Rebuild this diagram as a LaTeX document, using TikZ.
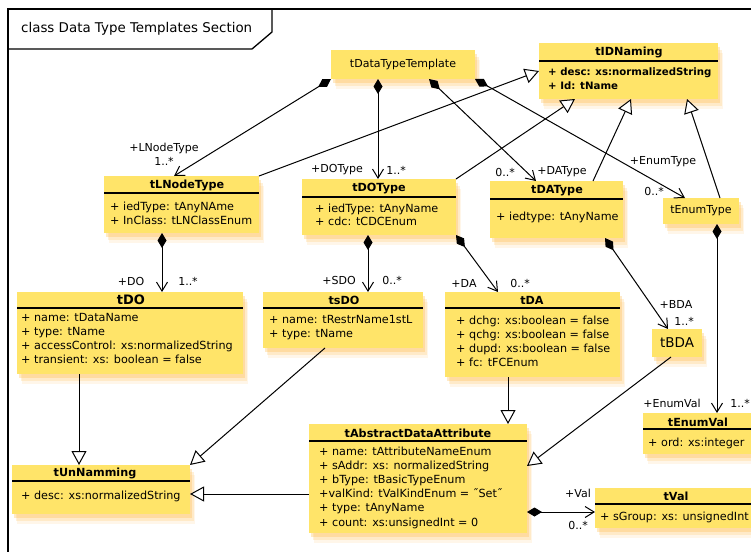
\documentclass[tikz,border=0pt]{standalone}
\usepackage{fontspec}
\setmainfont{DejaVu Sans}
\usetikzlibrary{arrows.meta,shadows}
\definecolor{clsfill}{RGB}{255,228,105}
\definecolor{clsshadow}{RGB}{255,185,70}
\begin{document}
\begin{tikzpicture}[x=1pt,y=-1pt,
  every node/.style={font=\fontsize{11.2}{13}\selectfont, inner sep=0pt},
  cls/.style={fill=clsfill, anchor=north west, inner sep=0pt, outer sep=0pt,
    general shadow={shadow xshift=5pt, shadow yshift=-10pt, fill=clsshadow, opacity=.12},
    general shadow={shadow xshift=4pt, shadow yshift=-7pt, fill=clsshadow, opacity=.2},
    general shadow={shadow xshift=2pt, shadow yshift=-4pt, fill=clsshadow, opacity=.3}},
  ttl/.style={font=\bfseries\fontsize{11.2}{13}\selectfont},
  bigttl/.style={font=\bfseries\fontsize{13}{15}\selectfont},
  plain/.style={font=\fontsize{11}{13}\selectfont},
  attr/.style={anchor=west, text height=9pt, text depth=2pt},
  battr/.style={attr, font=\bfseries\fontsize{10.2}{12}\selectfont},
  lbl/.style={font=\fontsize{11}{13}\selectfont},
  sepline/.style={line width=1.2pt},
  frame/.style={line width=1.3pt},
  comp/.style={draw, line width=1pt,
    {Diamond[length=15pt,width=9pt]}-{Straight Barb[length=9pt,width=11pt,line width=1pt]}},
  gen/.style={draw, line width=1pt,
    -{Triangle[open,length=14pt,width=15pt,fill=white,line width=1pt]}},
]
\useasboundingbox (0,0) rectangle (751,551);
\clip (0,0) rectangle (751,551);

% diagram frame with its name tab
\draw[frame] (8,560) -- (8,9) -- (760,9);
\draw[frame] (272,9) -- (272,32) -- (252,49) -- (8,49);
\node[anchor=west, font=\fontsize{13.4}{15}\selectfont] (frameT) at (21,29) {class Data Type Templates Section};

% ---------- classes ----------
% tDataTypeTemplate
\node[cls, minimum width=144pt, minimum height=29pt] (dtt) at (331,50) {};
\node[plain] (dttT) at (403,64) {tDataTypeTemplate};

% tIDNaming
\node[cls, minimum width=179pt, minimum height=56pt] (idn) at (539,43) {};
\node[ttl] (idnT) at (629,52) {tIDNaming};
\draw[sepline] (539,61) -- (718,61);
\node[battr] (idnA1) at (548,72) {+ desc: xs:normalizedString};
\node[battr] (idnA2) at (548,86) {+ Id: tName};

% tLNodeType
\node[cls, minimum width=155pt, minimum height=57pt] (lnt) at (104,176) {};
\node[ttl] (lntT) at (187,185) {tLNodeType};
\draw[sepline] (104,193) -- (259,193);
\node[attr] (lntA1) at (110,207) {+ iedType: tAnyNAme};
\node[attr] (lntA2) at (110,221) {+ InClass: tLNClassEnum};

% tDOType
\node[cls, minimum width=154pt, minimum height=56pt] (dot) at (302,179) {};
\node[ttl] (dotT) at (379,189) {tDOType};
\draw[sepline] (302,197) -- (456,197);
\node[attr] (dotA1) at (315,209) {+ iedType: tAnyName};
\node[attr] (dotA2) at (315,222) {+ cdc: tCDCEnum};

% tDAType
\node[cls, minimum width=133pt, minimum height=57pt] (dat) at (490,181) {};
\node[ttl] (datT) at (557,191) {tDAType};
\draw[sepline] (490,199) -- (623,199);
\node[attr] (datA1) at (496,217) {+ iedtype: tAnyName};

% tEnumType
\node[cls, minimum width=76pt, minimum height=26pt] (ent) at (663,198) {};
\node[plain] (entT) at (701,211) {tEnumType};

% tDO
\node[cls, minimum width=226pt, minimum height=82pt] (tdo) at (17,292) {};
\node[bigttl] (tdoT) at (131,300) {tDO};
\draw[sepline] (17,308) -- (243,308);
\node[attr] (tdoA1) at (21,318) {+ name: tDataName};
\node[attr] (tdoA2) at (21,332) {+ type: tName};
\node[attr] (tdoA3) at (21,346) {+ accessControl: xs:normalizedString};
\node[attr] (tdoA4) at (21,360) {+ transient: xs: boolean = false};

% tsDO
\node[cls, minimum width=160pt, minimum height=56pt] (sdo) at (263,292) {};
\node[ttl] (sdoT) at (344,300) {tsDO};
\draw[sepline] (263,308) -- (423,308);
\node[attr] (sdoA1) at (269,320) {+ name: tRestrName1stL};
\node[attr] (sdoA2) at (269,334) {+ type: tName};

% tDA
\node[cls, minimum width=175pt, minimum height=85pt] (tda) at (445,292) {};
\node[ttl] (tdaT) at (532,300) {tDA};
\draw[sepline] (445,308) -- (620,308);
\node[attr] (tdaA1) at (456,321) {+ dchg: xs:boolean = false};
\node[attr] (tdaA2) at (456,335) {+ qchg: xs:boolean = false};
\node[attr] (tdaA3) at (456,349) {+ dupd: xs:boolean = false};
\node[attr] (tdaA4) at (456,363) {+ fc: tFCEnum};

% tBDA
\node[cls, minimum width=50pt, minimum height=28pt] (bda) at (652,329) {};
\node[font=\fontsize{13.5}{15}\selectfont] (bdaT) at (677,343) {tBDA};

% tEnumVal
\node[cls, minimum width=115pt, minimum height=41pt] (env) at (643,413) {};
\node[ttl] (envT) at (698,422) {tEnumVal};
\draw[sepline] (643,429) -- (758,429);
\node[attr] (envA1) at (648,443) {+ ord: xs:integer};

% tUnNamming
\node[cls, minimum width=178pt, minimum height=49pt] (unn) at (12,465) {};
\node[ttl] (unnT) at (95,473) {tUnNamming};
\draw[sepline] (12,481) -- (190,481);
\node[attr] (unnA1) at (21,496) {+ desc: xs:normalizedString};

% tAbstractDataAttribute
\node[cls, minimum width=218pt, minimum height=109pt] (ada) at (309,424) {};
\node[ttl] (adaT) at (418,433) {tAbstractDataAttribute};
\draw[sepline] (309,441) -- (527,441);
\node[attr] (adaA1) at (319,452) {+ name: tAttributeNameEnum};
\node[attr] (adaA2) at (319,466) {+ sAddr: xs: normalizedString};
\node[attr] (adaA3) at (319,480) {+ bType: tBasicTypeEnum};
\node[attr] (adaA4) at (319,494) {+valKind: tValKindEnum = ˝Set˝};
\node[attr] (adaA5) at (319,508) {+ type: tAnyName};
\node[attr] (adaA6) at (319,523) {+ count: xs:unsignedInt = 0};

% tVal
\node[cls, minimum width=165pt, minimum height=40pt] (val) at (595,488) {};
\node[ttl] (valT) at (676,496) {tVal};
\draw[sepline] (595,504) -- (760,504);
\node[attr] (valA1) at (600,517) {+ sGroup: xs: unsignedInt};

% ---------- compositions ----------
\draw[comp] (dtt.south west) -- ([xshift=-7.5pt]lnt.north);
\draw[comp] ([xshift=-25pt]dtt.south) -- ([xshift=-25pt]dtt.south |- dot.north);
\draw[comp] ([xshift=26pt]dtt.south) -- ([xshift=-20.5pt]dat.north);
\draw[comp] (dtt.south east) -- ([xshift=-16pt]ent.north);
\draw[comp] ([xshift=-19.5pt]lnt.south) -- ([xshift=-19.5pt]lnt.south |- tdo.north);
\draw[comp] ([xshift=-11pt]dot.south) -- ([xshift=-11pt]dot.south |- sdo.north);
\draw[comp] (dot.south east) -- ([xshift=-34.5pt]tda.north);
\draw[comp] ([xshift=48.5pt]dat.south) -- ([xshift=-9pt]bda.north);
\draw[comp] ([xshift=16pt]ent.south) -- ([xshift=16pt]ent.south |- env.north);
\draw[comp] ([yshift=-33.5pt]ada.east) -- ([yshift=-33.5pt]ada.east -| val.west);

% ---------- generalizations ----------
\draw[gen] (lnt.north east) -- (idn.west);
\draw[gen] (dot.north east) -- ([xshift=-53.5pt]idn.south);
\draw[gen] ([xshift=36.5pt]dat.north) -- ([xshift=2.5pt]idn.south);
\draw[gen] ([xshift=19pt]ent.north) -- ([xshift=58.5pt]idn.south);
\draw[gen] ([xshift=-51pt]tdo.south) -- ([xshift=-51pt]tdo.south |- unn.north);
\draw[gen] ([xshift=-18pt]sdo.south) -- (unn.north east);
\draw[gen] ([yshift=-15.5pt]ada.west) -- ([yshift=-15.5pt]ada.west -| unn.east);
\draw[gen] ([xshift=-24.5pt]tda.south) -- ([xshift=-24.5pt]tda.south |- ada.north);
\draw[gen] ([xshift=-6pt]bda.south) -- ([yshift=12.5pt]ada.east);

% ---------- role names and multiplicities ----------
\node[lbl] (lLN1) at (164,148) {+LNodeType};
\node[lbl] (lLN2) at (164,161) {1..*};
\node[lbl] (lDOT1) at (337,170) {+DOType};
\node[lbl] (lDOT2) at (396,170) {1..*};
\node[lbl] (lDAT2) at (505,172) {0..*};
\node[lbl] (lDAT1) at (562,172) {+DAType};
\node[lbl] (lEN1) at (663,162) {+EnumType};
\node[lbl] (lEN2) at (654,191) {0..*};
\node[lbl] (lDO1) at (131,281) {+DO};
\node[lbl] (lDO2) at (188,281) {1..*};
\node[lbl] (lSDO1) at (339,280) {+SDO};
\node[lbl] (lSDO2) at (392,280) {0..*};
\node[lbl] (lDA1) at (464,283) {+DA};
\node[lbl] (lDA2) at (520,283) {0..*};
\node[lbl] (lBDA1) at (676,304) {+BDA};
\node[lbl] (lBDA2) at (684,321) {1..*};
\node[lbl] (lEV1) at (672,403) {+EnumVal};
\node[lbl] (lEV2) at (740,403) {1..*};
\node[lbl] (lV1) at (578,493) {+Val};
\node[lbl] (lV2) at (578,525) {0..*};
\end{tikzpicture}
\end{document}
